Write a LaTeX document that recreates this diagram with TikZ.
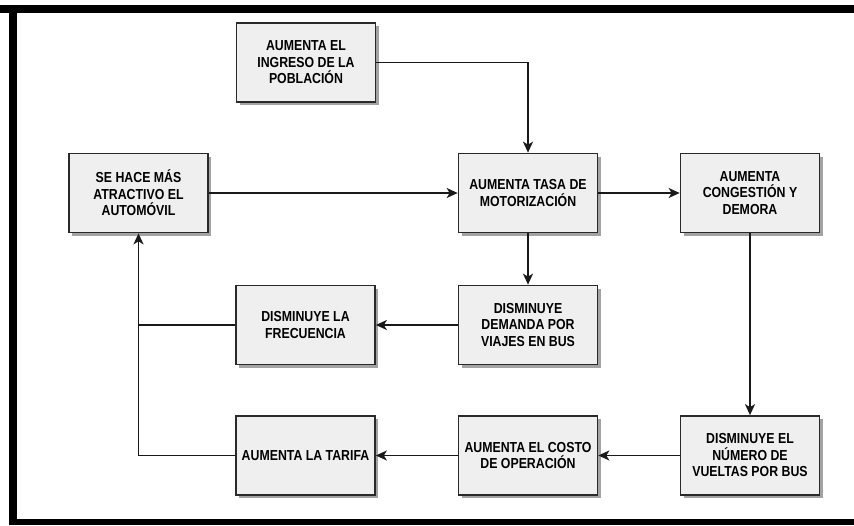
\documentclass[tikz,border=0pt]{standalone}
\usepackage{fontspec}
\newfontfamily\boxfont{Liberation Sans}[FakeStretch=0.85]
\usetikzlibrary{arrows.meta,shadows}
\definecolor{boxfill}{HTML}{EFEFEF}
\definecolor{edge}{HTML}{2A2A2A}
\tikzset{
  stepbox/.style={draw=edge, line width=1.7pt, fill=boxfill,
    minimum width=139pt, minimum height=79pt, inner sep=2pt,
    align=center, text=black,
    font=\boxfont\bfseries\fontsize{14.5}{16.5}\selectfont,
    drop shadow={shadow xshift=3pt, shadow yshift=-3pt, fill=black!45, opacity=0.8}},
  link/.style={draw=black!90, line width=1.6pt,
    -{Stealth[length=11pt, width=10pt, inset=3pt]}},
  plain/.style={draw=black!90, line width=1.6pt}
}
\begin{document}
\begin{tikzpicture}[x=1pt, y=-1pt]
\useasboundingbox (0,0) rectangle (854,525);
% outer frame
\fill[black] (0,5) rectangle (854,13);
\fill[black] (9,5) rectangle (17,525);
\fill[black] (9,519) rectangle (854,525);

% boxes
\node[stepbox] (ingreso)    at (306,62.5)    {AUMENTA EL\\INGRESO DE LA\\POBLACIÓN};
\node[stepbox] (atractivo)  at (138.5,193)   {SE HACE MÁS\\ATRACTIVO EL\\AUTOMÓVIL};
\node[stepbox] (tasa)       at (528,193)     {AUMENTA TASA DE\\MOTORIZACIÓN};
\node[stepbox] (congestion) at (750,193)     {AUMENTA\\CONGESTIÓN Y\\DEMORA};
\node[stepbox] (frecuencia) at (305.5,325)   {DISMINUYE LA\\FRECUENCIA};
\node[stepbox] (demanda)    at (528,325)     {DISMINUYE\\DEMANDA POR\\VIAJES EN BUS};
\node[stepbox] (tarifa)     at (305.5,455.5) {AUMENTA LA TARIFA};
\node[stepbox] (costo)      at (528,455.5)   {AUMENTA EL COSTO\\DE OPERACIÓN};
\node[stepbox] (numero)     at (750,455.5)   {DISMINUYE EL\\NÚMERO DE\\VUELTAS POR BUS};

% connectors
\draw[link] (ingreso.east) -| (tasa.north);
\draw[link] (atractivo.east) -- (tasa.west);
\draw[link] (tasa.east) -- (congestion.west);
\draw[link] (tasa.south) -- (demanda.north);
\draw[link] (congestion.south) -- (numero.north);
\draw[link] (demanda.west) -- (frecuencia.east);
\draw[link] (numero.west) -- (costo.east);
\draw[link] (costo.west) -- (tarifa.east);
\coordinate (join) at (atractivo.south |- frecuencia.west);
\draw[plain] (frecuencia.west) -- (join);
\draw[link] (tarifa.west) -| (atractivo.south);
\end{tikzpicture}
\end{document}
